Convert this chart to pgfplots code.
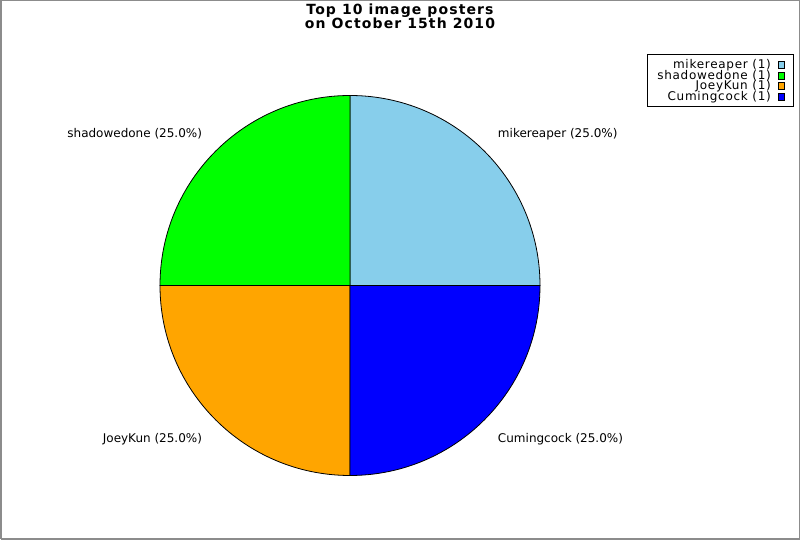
\documentclass[border=0pt]{standalone}
\usepackage{fontspec}
\setmainfont{DejaVu Sans}
\newfontfamily\legfont[LetterSpace=6]{DejaVu Sans}
\newfontfamily\titlefont[LetterSpace=8]{DejaVu Sans Bold}
\usepackage{pgfplots}
\usepackage{pgfplotstable}
\pgfplotsset{compat=1.18}

\definecolor{skyc}{HTML}{87CEEB}
\definecolor{limec}{HTML}{00FF00}
\definecolor{orangec}{HTML}{FFA500}
\definecolor{bluec}{HTML}{0000FF}

\newcommand\lblfont{\fontsize{12}{14}\selectfont}
\newcommand\legfnt{\legfont\fontsize{12}{13}\selectfont}

% posters and their image counts
\pgfplotstableread{
name value color
mikereaper 1 skyc
shadowedone 1 limec
JoeyKun 1 orangec
Cumingcock 1 bluec
}\piedata

\begin{document}
\begin{tikzpicture}
\begin{axis}[
  hide axis, scale only axis,
  width=800pt, height=540pt,
  xmin=0, xmax=800, ymin=0, ymax=540,
  enlargelimits=false, clip=false,
]
% outer frame
\addplot[black!45, line width=1.5pt] coordinates {(0.75,0.75)(799.25,0.75)(799.25,539.25)(0.75,539.25)(0.75,0.75)};

% title
\node[anchor=base, font=\titlefont\fontsize{14}{16}\selectfont] at (axis cs:400,525.3) {Top 10 image posters};
\node[anchor=base, font=\titlefont\fontsize{14}{16}\selectfont] at (axis cs:400,511.7) {on October 15th 2010};

% total
\pgfplotstablegetrowsof{\piedata}\pgfmathtruncatemacro\nrows{\pgfplotsretval-1}
\def\total{0}
\pgfplotsforeachungrouped \i in {0,...,\nrows}{
  \pgfplotstablegetelem{\i}{value}\of\piedata
  \pgfmathsetmacro\total{\total+\pgfplotsretval}
}

% slices, labels, legend rows
\def\angstart{0}
\pgfplotsforeachungrouped \i in {0,...,\nrows}{
  \pgfplotstablegetelem{\i}{value}\of\piedata \let\v\pgfplotsretval
  \pgfplotstablegetelem{\i}{color}\of\piedata \let\c\pgfplotsretval
  \pgfplotstablegetelem{\i}{name}\of\piedata \let\n\pgfplotsretval
  \pgfmathsetmacro\angend{\angstart+360*\v/\total}
  \pgfmathsetmacro\angmid{(\angstart+\angend)/2}
  \pgfmathsetmacro\pct{100*\v/\total}
  \pgfmathprintnumberto[fixed,fixed zerofill,precision=1,assume math mode=true]{\pct}{\pctstr}
  \pgfmathparse{cos(\angmid)>0 ? "west" : "east"}\let\hside\pgfmathresult
  \pgfmathparse{sin(\angmid)>0 ? "base" : "north"}\let\vside\pgfmathresult
  \pgfmathsetmacro\lx{350+209*cos(\angmid)}
  \pgfmathsetmacro\ly{254.5+209*sin(\angmid)}
  \pgfmathsetmacro\legy{471.3-10.5*\i}
  \edef\temp{%
    \noexpand\filldraw[fill=\c, draw=black, line width=0.8pt] (axis cs:350,254.5) -- ++(\angstart:190pt)
      arc[start angle=\angstart, end angle=\angend, radius=190pt] -- cycle;
    \noexpand\node[anchor=\vside\space\hside, inner sep=0pt, font=\noexpand\lblfont] at (axis cs:\lx,\ly) {\n\space(\pctstr\noexpand\%)};
    \noexpand\node[anchor=base east, inner sep=0pt, font=\noexpand\legfnt] at (axis cs:771,\legy) {\n\space(\v)};
    \noexpand\filldraw[fill=\c, draw=black, line width=0.6pt] (axis cs:778.3,\legy) rectangle (axis cs:784.6,\legy+7);
  }%
  \temp
  \global\let\angstart\angend
}

% legend frame
\draw[black, line width=0.9pt] (axis cs:647.3,434) rectangle (axis cs:793,485.7);
\end{axis}
\end{tikzpicture}
\end{document}
